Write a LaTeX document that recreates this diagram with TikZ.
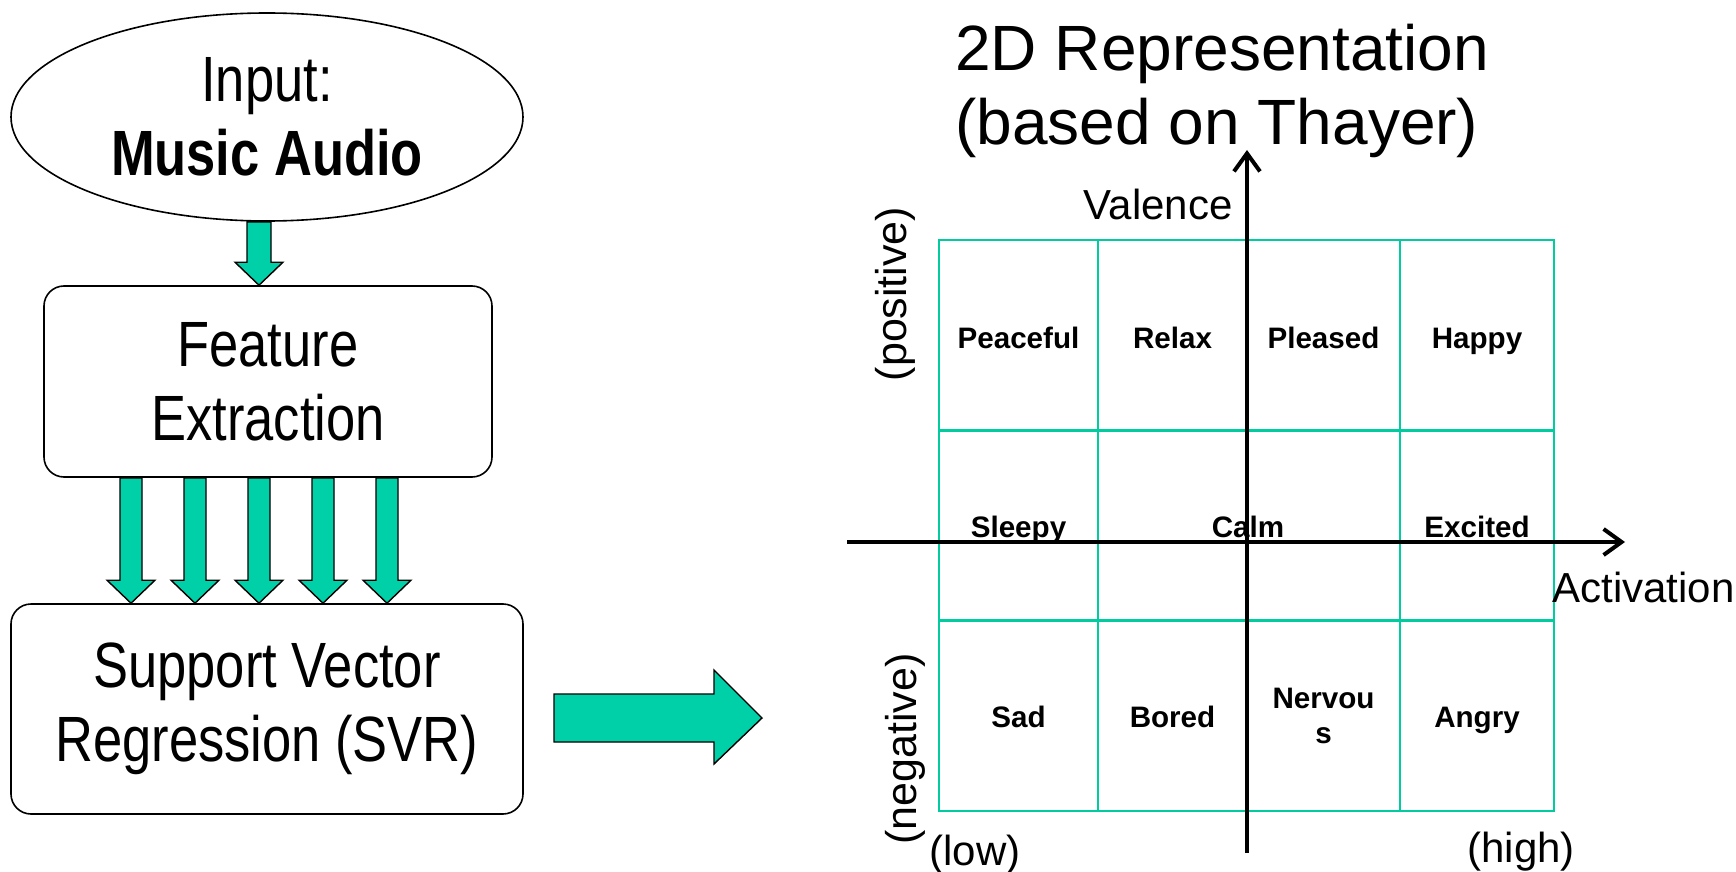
\documentclass[tikz,border=0pt]{standalone}
\usepackage{fontspec}
\setmainfont{Liberation Sans}
\newfontfamily\narrowfont[FakeStretch=0.82]{Liberation Sans}
\usetikzlibrary{arrows.meta,positioning,calc,shapes.geometric}
\definecolor{arrowteal}{RGB}{0,208,168}
\definecolor{gridteal}{RGB}{0,204,160}
\tikzset{
  stage/.style={draw, rounded corners=10pt, line width=0.8pt, align=center, inner sep=0pt, font=\narrowfont\fontsize{32}{37}\selectfont},
  inbox/.style={draw, ellipse, line width=0.8pt, align=center, inner sep=0pt, font=\narrowfont\fontsize{32}{37}\selectfont},
  blk/.style={draw=black, line width=0.7pt, fill=arrowteal, line join=miter},
  gridln/.style={draw=gridteal, line width=1.4pt},
  axis/.style={line width=2pt, -{Straight Barb[length=9pt,width=13pt]}},
  mood/.style={font=\bfseries\fontsize{14.8}{17.5}\selectfont, inner sep=0pt, align=center},
  axlbl/.style={font=\fontsize{21}{24}\selectfont, inner sep=0pt},
  sidelbl/.style={font=\fontsize{21.5}{24}\selectfont, inner sep=0pt, rotate=90},
  ttl/.style={font=\fontsize{32}{37}\selectfont, align=left, inner sep=0pt},
}
\begin{document}
\begin{tikzpicture}[x=0.5pt,y=-0.5pt]
\newcommand{\blkdown}[4]{\draw[blk] ($(#1)+(-#3,0)$) -- ($(#2)+(-#3,-23)$) -- ($(#2)+(-#4,-23)$) -- (#2) -- ($(#2)+(#4,-23)$) -- ($(#2)+(#3,-23)$) -- ($(#1)+(#3,0)$) -- cycle;}
\useasboundingbox (0,0) rectangle (1736,872);
\node[inbox, minimum width=256pt, minimum height=104pt] (inp) at (267,117) {Input:\\\textbf{Music Audio}};
\node[stage, minimum width=224pt, minimum height=95.5pt] (feat) at (268,381.5) {Feature\\Extraction};
\node[stage, minimum width=256pt, minimum height=105pt] (svr) at (267,709) {Support Vector\\Regression (SVR)};
\coordinate (a0t) at (inp.south -| 259,0);
\coordinate (a0b) at (feat.north -| 259,0);
\blkdown{a0t}{a0b}{12}{24}
\foreach \ax in {131,195,259,323,387}{
  \coordinate (ft) at (feat.south -| \ax,0);
  \coordinate (fb) at (svr.north -| \ax,0);
  \blkdown{ft}{fb}{11}{24}
}
\coordinate (bigs) at (554,718);
\coordinate (bigt) at (762,718);
\draw[blk] ($(bigs)+(0,-24)$) -- ($(bigt)+(-48,-24)$) -- ($(bigt)+(-48,-48)$) -- (bigt) -- ($(bigt)+(-48,46)$) -- ($(bigt)+(-48,24)$) -- ($(bigs)+(0,24)$) -- cycle;
\node[ttl, anchor=north west] (title) at (955,24) {2D Representation\\(based on Thayer)};
\draw[gridln] (939,240) rectangle (1554,811);
\foreach \gx in {1098,1247,1400} \draw[gridln] (\gx,240) -- (\gx,811);
\foreach \gy in {430.33,620.67} \draw[gridln] (939,\gy) -- (1554,\gy);
\node[mood, anchor=base] (peaceful) at (1018.5,348) {Peaceful};
\node[mood, anchor=base] (relax) at (1172.5,348) {Relax};
\node[mood, anchor=base] (pleased) at (1323.5,348) {Pleased};
\node[mood, anchor=base] (happy) at (1477,348) {Happy};
\node[mood, anchor=base] (sleepy) at (1018.5,537) {Sleepy};
\node[mood, anchor=base] (calm) at (1248,537) {Calm};
\node[mood, anchor=base] (excited) at (1477,537) {Excited};
\node[mood, anchor=base] (sad) at (1018.5,727) {Sad};
\node[mood, anchor=base] (bored) at (1172.5,727) {Bored};
\node[mood] (nervous) at (1323.5,716) {Nervou\\s};
\node[mood, anchor=base] (angry) at (1477,727) {Angry};
\node[axlbl, anchor=base east] (val) at (1233,220) {Valence};
\node[axlbl, anchor=base west] (act) at (1552,602) {Activation};
\node[sidelbl] (pos) at (895,294) {(positive)};
\node[sidelbl] (neg) at (905,749) {(negative)};
\node[axlbl, anchor=base west] (low) at (929,865) {(low)};
\node[axlbl, anchor=base west] (high) at (1467,862) {(high)};
\coordinate (hx0) at (847,542);
\coordinate (hx1) at (1625,542);
\coordinate (vy0) at (1247,853);
\coordinate (vy1) at (1247,150);
\draw[axis] (hx0) -- (hx1);
\draw[axis] (vy0) -- (vy1);
\end{tikzpicture}
\end{document}
